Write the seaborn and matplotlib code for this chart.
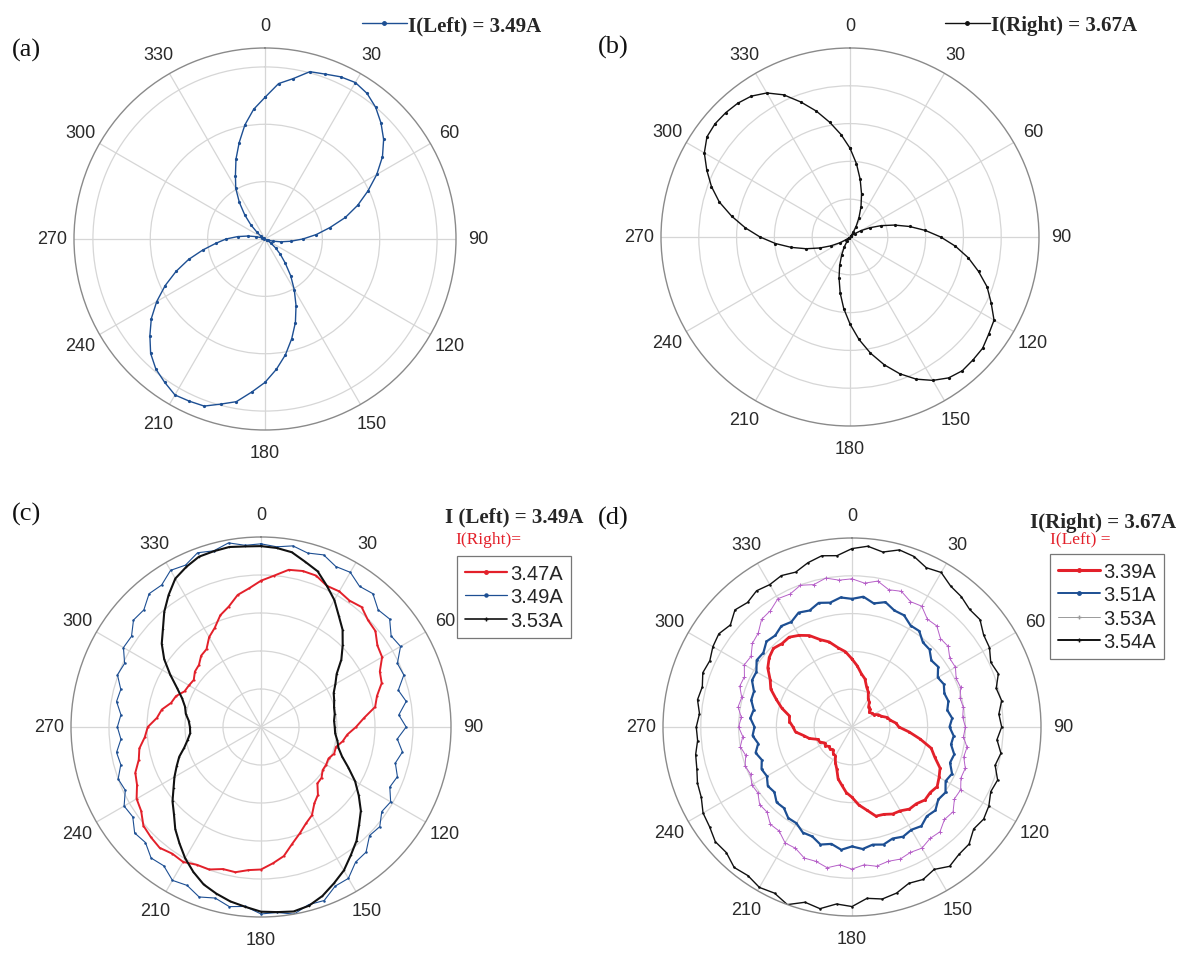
import numpy as np
import matplotlib
matplotlib.use("Agg")
import matplotlib.pyplot as plt
import seaborn as sns
from matplotlib.lines import Line2D

# ---------------- data (radius in ring units, sampled every 5 degrees) ----------------
ANGLES_DEG = np.arange(0, 360, 5)
TICK_DEG = list(range(0, 360, 30))

# (a) I(Left) = 3.49A
A_LEFT = [2.47, 2.72, 2.84, 3.02, 3.06, 3.12, 3.15, 3.10, 3.00, 2.86, 2.70, 2.50,
          2.25, 1.98, 1.72, 1.45, 1.15, 0.90, 0.66, 0.45, 0.28, 0.15, 0.06, 0.03,
          0.05, 0.12, 0.24, 0.38, 0.55, 0.78, 1.02, 1.28, 1.55, 1.80, 2.05, 2.28,
          2.50, 2.68, 2.88, 2.98, 3.10, 3.12, 3.14, 3.05, 2.96, 2.82, 2.62, 2.42,
          2.18, 1.92, 1.65, 1.38, 1.10, 0.86, 0.68, 0.48, 0.30, 0.16, 0.06, 0.02,
          0.03, 0.08, 0.18, 0.35, 0.55, 0.78, 1.02, 1.22, 1.48, 1.74, 2.02, 2.27]

# (b) I(Right) = 3.67A
B_RIGHT = [2.35, 1.95, 1.55, 1.18, 0.85, 0.56, 0.32, 0.15, 0.05, 0.02, 0.05, 0.16,
           0.34, 0.58, 0.88, 1.22, 1.60, 2.00, 2.40, 2.80, 3.18, 3.52, 3.86, 4.12,
           4.40, 4.48, 4.58, 4.60, 4.62, 4.55, 4.38, 4.15, 3.85, 3.50, 3.12, 2.72,
           2.30, 1.90, 1.50, 1.12, 0.80, 0.52, 0.30, 0.14, 0.05, 0.02, 0.04, 0.12,
           0.30, 0.55, 0.85, 1.20, 1.58, 1.98, 2.38, 2.78, 3.18, 3.58, 3.90, 4.18,
           4.45, 4.62, 4.66, 4.65, 4.62, 4.55, 4.40, 4.15, 3.80, 3.45, 3.08, 2.72]

# (c) I(Left) = 3.49A, I(Right) = 3.47A / 3.49A / 3.53A
C_LABELS = ["3.47A", "3.49A", "3.53A"]
C_R347 = [3.85, 4.00, 4.20, 4.25, 4.24, 4.10, 4.12, 4.06, 4.12, 3.98, 3.93, 3.74,
          3.68, 3.45, 3.38, 3.16, 3.05, 2.72, 2.50, 2.28, 2.18, 2.04, 2.05, 1.96,
          1.98, 1.98, 2.08, 2.10, 2.33, 2.45, 2.68, 2.80, 2.98, 3.18, 3.45, 3.60,
          3.75, 3.78, 3.88, 3.87, 3.99, 4.00, 4.10, 4.07, 4.15, 4.10, 4.04, 3.85,
          3.78, 3.60, 3.52, 3.33, 3.25, 3.07, 2.98, 2.75, 2.65, 2.45, 2.38, 2.22,
          2.19, 2.16, 2.27, 2.31, 2.45, 2.50, 2.73, 2.88, 3.13, 3.28, 3.53, 3.66]
C_R349 = [4.82, 4.76, 4.84, 4.74, 4.82, 4.66, 4.70, 4.52, 4.58, 4.36, 4.42, 4.18,
          4.24, 3.96, 4.00, 3.74, 3.88, 3.64, 3.82, 3.60, 3.78, 3.66, 3.82, 3.74,
          3.94, 3.88, 4.08, 4.04, 4.30, 4.34, 4.60, 4.62, 4.86, 4.84, 5.00, 4.90,
          4.92, 4.74, 4.80, 4.66, 4.76, 4.60, 4.66, 4.46, 4.50, 4.30, 4.34, 4.12,
          4.16, 3.94, 4.00, 3.82, 3.86, 3.70, 3.78, 3.70, 3.86, 3.82, 4.02, 3.96,
          4.18, 4.16, 4.38, 4.36, 4.58, 4.56, 4.76, 4.70, 4.88, 4.80, 4.92, 4.80]
C_R353 = [4.76, 4.73, 4.67, 4.50, 4.36, 4.10, 3.86, 3.57, 3.34, 3.04, 2.76, 2.43,
          2.26, 2.11, 2.05, 1.99, 1.97, 1.93, 1.94, 1.96, 2.04, 2.11, 2.27, 2.54,
          2.86, 3.14, 3.43, 3.65, 3.91, 4.12, 4.36, 4.54, 4.73, 4.87, 4.93, 4.89,
          4.86, 4.75, 4.66, 4.54, 4.41, 4.21, 3.99, 3.74, 3.51, 3.24, 3.04, 2.81,
          2.63, 2.45, 2.29, 2.09, 1.96, 1.87, 1.87, 1.91, 2.01, 2.07, 2.21, 2.44,
          2.76, 3.11, 3.41, 3.65, 3.96, 4.24, 4.51, 4.65, 4.77, 4.79, 4.81, 4.77]

# (d) I(Right) = 3.67A, I(Left) = 3.39A / 3.51A / 3.53A / 3.54A
D_LABELS = ["3.39A", "3.51A", "3.53A", "3.54A"]
D_L339 = [1.80, 1.62, 1.43, 1.32, 1.13, 1.02, 0.86, 0.80, 0.68, 0.66, 0.60, 0.64,
          0.66, 0.77, 0.83, 0.97, 1.03, 1.17, 1.24, 1.52, 1.83, 2.17, 2.33, 2.57,
          2.66, 2.75, 2.70, 2.73, 2.65, 2.65, 2.56, 2.54, 2.46, 2.44, 2.23, 2.07,
          1.86, 1.74, 1.56, 1.42, 1.18, 1.04, 0.88, 0.86, 0.78, 0.82, 0.80, 0.86,
          0.84, 0.94, 0.96, 1.17, 1.30, 1.50, 1.56, 1.66, 1.68, 1.92, 2.13, 2.37,
          2.50, 2.72, 2.86, 2.94, 2.88, 2.90, 2.80, 2.67, 2.46, 2.33, 2.13, 2.00]
D_L351 = [3.39, 3.46, 3.32, 3.42, 3.28, 3.26, 3.10, 3.10, 2.92, 2.90, 2.74, 2.78,
          2.62, 2.68, 2.60, 2.64, 2.56, 2.66, 2.58, 2.70, 2.66, 2.80, 2.76, 2.92,
          2.86, 3.02, 2.98, 3.12, 3.08, 3.20, 3.14, 3.20, 3.14, 3.22, 3.16, 3.24,
          3.16, 3.26, 3.14, 3.22, 3.08, 3.08, 2.94, 2.94, 2.80, 2.82, 2.68, 2.72,
          2.60, 2.64, 2.54, 2.64, 2.52, 2.64, 2.58, 2.70, 2.64, 2.76, 2.76, 2.92,
          2.92, 3.08, 3.06, 3.20, 3.16, 3.26, 3.21, 3.34, 3.28, 3.40, 3.34, 3.44]
D_L353 = [3.92, 3.82, 3.92, 3.76, 3.82, 3.66, 3.69, 3.48, 3.49, 3.31, 3.32, 3.16,
          3.16, 3.04, 3.06, 2.96, 2.99, 2.94, 3.00, 2.96, 3.09, 3.06, 3.19, 3.18,
          3.32, 3.31, 3.49, 3.46, 3.62, 3.60, 3.70, 3.66, 3.72, 3.68, 3.74, 3.66,
          3.76, 3.66, 3.78, 3.68, 3.69, 3.54, 3.54, 3.36, 3.36, 3.18, 3.19, 3.04,
          3.06, 2.96, 3.01, 2.91, 3.00, 2.90, 3.00, 2.94, 3.06, 3.02, 3.16, 3.14,
          3.29, 3.26, 3.44, 3.51, 3.72, 3.76, 3.92, 3.88, 3.99, 3.90, 4.00, 3.90]
D_L354 = [4.72, 4.80, 4.70, 4.85, 4.80, 4.65, 4.72, 4.55, 4.50, 4.40, 4.42, 4.25,
          4.20, 4.05, 4.12, 3.95, 4.02, 3.90, 3.96, 3.85, 4.00, 3.92, 4.10, 4.05,
          4.18, 4.25, 4.20, 4.38, 4.40, 4.50, 4.35, 4.45, 4.40, 4.55, 4.62, 4.55,
          4.75, 4.70, 4.88, 4.80, 5.00, 4.85, 4.90, 4.80, 4.85, 4.70, 4.72, 4.60,
          4.55, 4.40, 4.35, 4.25, 4.20, 4.10, 4.12, 4.05, 4.15, 4.10, 4.20, 4.15,
          4.25, 4.30, 4.20, 4.38, 4.30, 4.40, 4.35, 4.42, 4.36, 4.50, 4.60, 4.55]

BLUE = "#1d4f93"
RED = "#e3202a"
MAGENTA = "#b660c8"
BLACK = "#111111"

# ---------------- figure ----------------
sns.set_theme(style="white")
plt.rcParams["font.family"] = ["Liberation Sans", "DejaVu Sans"]
SERIF = ["Liberation Serif", "DejaVu Serif"]

W, H = 1184, 954
fig = plt.figure(figsize=(W / 100, H / 100), dpi=100)
fig.patch.set_facecolor("white")


def fx(x):
    return x / W


def fy(y):
    return 1 - y / H


def make_ax(cx, cy, R, rticks, rmax):
    ax = fig.add_axes([fx(cx - R), fy(cy + R), 2 * R / W, 2 * R / H], projection="polar")
    ax.set_theta_zero_location("N")
    ax.set_theta_direction(-1)
    ax.set_xticks(np.deg2rad(TICK_DEG))
    ax.set_xticklabels([str(t) for t in TICK_DEG])
    ax.set_yticks(rticks)
    ax.set_yticklabels([])
    ax.grid(True, color="#d6d6d6", lw=0.9)
    ax.spines["polar"].set_color("#8a8a8a")
    ax.spines["polar"].set_linewidth(1.0)
    ax.tick_params(axis="x", pad=3, labelsize=13, colors="#2a2a2a")
    ax.set_facecolor("white")
    ax._rmax = rmax
    return ax


def draw(ax, vals, color, lw, marker, ms, mew=0.0):
    th = np.deg2rad(np.append(ANGLES_DEG, 360))
    r = np.append(np.asarray(vals, float), vals[0])
    sns.lineplot(x=th, y=r, ax=ax, sort=False, estimator=None, color=color, lw=lw,
                 marker=marker, markersize=ms, markeredgewidth=mew,
                 markeredgecolor=color, markerfacecolor=color)


def finish(ax):
    ax.set_ylim(0, ax._rmax)
    ax.set_xlabel("")
    ax.set_ylabel("")
    if ax.get_legend() is not None:
        ax.get_legend().remove()


# (a)
axa = make_ax(265, 240, 191, [1, 2, 3], 3.33)
draw(axa, A_LEFT, BLUE, 1.0, "o", 2.3)
finish(axa)

# (b)
axb = make_ax(850, 238, 189, [1, 2, 3, 4], 5.0)
draw(axb, B_RIGHT, BLACK, 1.0, "o", 2.3)
finish(axb)

# (c)
axc = make_ax(261, 728, 190, [1, 2, 3, 4], 5.0)
draw(axc, C_R349, BLUE, 0.8, "o", 1.8)
draw(axc, C_R347, RED, 1.4, "o", 1.6)
draw(axc, C_R353, BLACK, 1.5, "o", 1.2)
finish(axc)

# (d)
axd = make_ax(852, 728, 189, [1, 2, 3, 4], 5.0)
draw(axd, D_L354, BLACK, 1.0, "o", 1.8)
draw(axd, D_L353, MAGENTA, 0.7, "+", 3.0, 0.7)
draw(axd, D_L351, BLUE, 1.6, "o", 2.0)
draw(axd, D_L339, RED, 2.0, "o", 2.2)
finish(axd)

# ---------------- panel labels ----------------
for txt, x, y in [("(a)", 12, 50), ("(b)", 598, 47), ("(c)", 12, 514), ("(d)", 598, 518)]:
    fig.text(fx(x), fy(y), txt, family=SERIF, fontsize=19, va="center", ha="left", color="#111111")

# ---------------- legends ----------------
bold = dict(family=SERIF, size=15, weight="bold")


def top_legend(x, y, label, color):
    h = [Line2D([], [], color=color, lw=1.0, marker="o", ms=2.5)]
    fig.legend(h, [label], loc="center left", bbox_to_anchor=(fx(x), fy(y)),
               frameon=False, prop=bold, handlelength=2.15, handletextpad=0.05,
               borderpad=0, borderaxespad=0)


top_legend(362, 26, "I(Left) = 3.49A", BLUE)
top_legend(945, 26, "I(Right) = 3.67A", BLACK)

# (c) legend
fig.text(fx(445), fy(517), "I (Left) = 3.49A", va="center", ha="left", family=SERIF, fontsize=15, weight="bold")
fig.text(fx(455), fy(540), "I(Right)=", va="center", ha="left", family=SERIF, fontsize=12.5, color=RED)
hc = [Line2D([], [], color=RED, lw=1.6, marker="o", ms=2.5),
      Line2D([], [], color=BLUE, lw=0.9, marker="o", ms=2.2),
      Line2D([], [], color=BLACK, lw=1.2, marker="+", ms=3.5)]
legc = fig.legend(hc, C_LABELS, loc="upper left", bbox_to_anchor=(fx(457), fy(557)),
                  fontsize=14.5, frameon=True, fancybox=False, edgecolor="#555555",
                  handlelength=2.1, handletextpad=0.12, borderpad=0.4, labelspacing=0.22,
                  borderaxespad=0)
legc.get_frame().set_linewidth(0.9)

# (d) legend
fig.text(fx(1030), fy(523), "I(Right) = 3.67A", va="center", ha="left", family=SERIF, fontsize=15, weight="bold")
fig.text(fx(1050), fy(540), "I(Left) =", va="center", ha="left", family=SERIF, fontsize=12.5, color=RED)
hd = [Line2D([], [], color=RED, lw=2.2, marker="o", ms=2.5),
      Line2D([], [], color=BLUE, lw=1.4, marker="o", ms=2.5),
      Line2D([], [], color="#9a9a9a", lw=0.7, marker="+", ms=3.5),
      Line2D([], [], color=BLACK, lw=1.4, marker="+", ms=3.5)]
legd = fig.legend(hd, D_LABELS, loc="upper left", bbox_to_anchor=(fx(1050), fy(555)),
                  fontsize=14.5, frameon=True, fancybox=False, edgecolor="#555555",
                  handlelength=2.1, handletextpad=0.12, borderpad=0.4, labelspacing=0.22,
                  borderaxespad=0)
legd.get_frame().set_linewidth(0.9)

fig.savefig("out.png", dpi=100, facecolor="white")
